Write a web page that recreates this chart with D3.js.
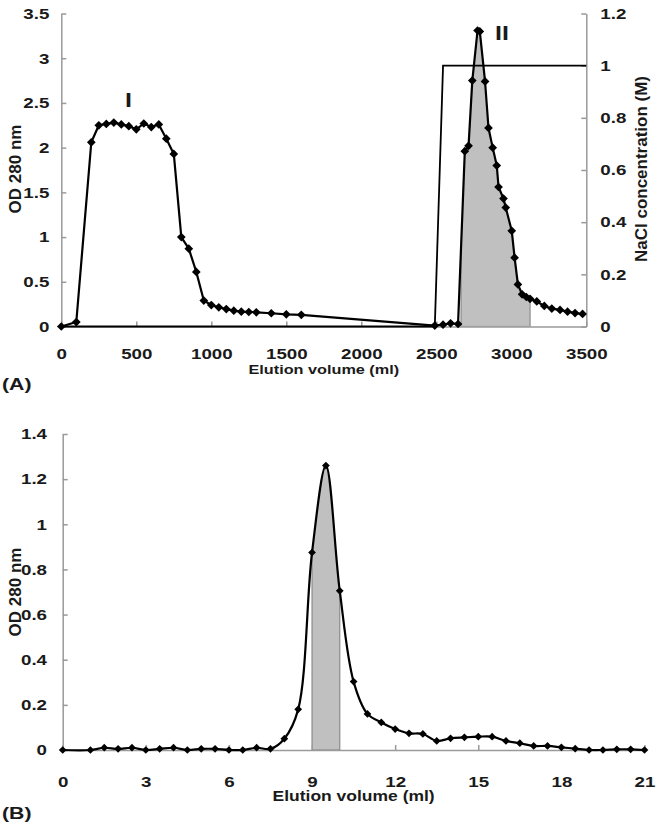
<!DOCTYPE html>
<html><head><meta charset="utf-8">
<script src="https://cdn.jsdelivr.net/npm/d3@7/dist/d3.min.js"></script>
<style>body{margin:0;background:#fff}svg{display:block}</style>
</head><body><svg id="c" width="664" height="829"></svg>
<script>
// ---------- Panel A data ----------
const volumeA = [0, 100, 200, 250, 300, 350, 400, 450, 500, 550, 600, 650, 700, 750, 800, 850, 900, 950,
  1000, 1050, 1100, 1150, 1200, 1250, 1300, 1400, 1500, 1600, 2490, 2545, 2595, 2645,
  2690, 2715, 2740, 2775, 2790, 2825, 2848, 2876, 2903, 2915, 2948, 2963, 3003, 3022, 3044, 3072,
  3100, 3125, 3170, 3220, 3270, 3325, 3375, 3425, 3475];
const odA = [0, 0.05, 2.06, 2.25, 2.265, 2.28, 2.26, 2.24, 2.205, 2.27, 2.23, 2.26, 2.10, 1.93, 1.00, 0.87, 0.61, 0.29,
  0.24, 0.215, 0.195, 0.177, 0.166, 0.162, 0.159, 0.148, 0.136, 0.13, 0.01, 0.02, 0.035, 0.028,
  1.96, 2.02, 2.75, 3.31, 3.30, 2.74, 2.22, 2.0, 1.80, 1.56, 1.43, 1.33, 1.07, 0.77, 0.47, 0.36,
  0.33, 0.31, 0.28, 0.23, 0.20, 0.185, 0.166, 0.15, 0.14];
const naclVolume = [0, 2490, 2545, 3500];
const naclConc = [0, 0, 1, 1];
const shadeA = [2665, 3125];
const xTicksA = [0, 500, 1000, 1500, 2000, 2500, 3000, 3500];
const yTicksA = [0, 0.5, 1, 1.5, 2, 2.5, 3, 3.5];
const yTicksA2 = [0, 0.2, 0.4, 0.6, 0.8, 1, 1.2];
const peakNames = ["I", "II"];
const peakVol = [447, 2938];
const peakOd = [2.455, 3.2];

// ---------- Panel B data ----------
const volumeB = [0, 1, 1.5, 2, 2.5, 3, 3.5, 4, 4.5, 5, 5.5, 6, 6.5, 7, 7.5, 8, 8.5, 9, 9.5, 10,
  10.5, 11, 11.5, 12, 12.5, 13, 13.5, 14, 14.5, 15, 15.5, 16, 16.5, 17, 17.5, 18, 18.5, 19, 19.5, 20, 20.5, 21];
const odB = [0, 0, 0.01, 0.005, 0.01, 0, 0.005, 0.01, 0, 0.005, 0.005, 0, 0, 0.01, 0.005, 0.05, 0.18, 0.875, 1.26, 0.705,
  0.303, 0.16, 0.122, 0.093, 0.074, 0.071, 0.04, 0.052, 0.056, 0.059, 0.059, 0.04, 0.03, 0.018, 0.018, 0.012, 0.006, 0, 0, 0.003, 0.003, 0];
const shadeB = [9, 10];
const xTicksB = [0, 3, 6, 9, 12, 15, 18, 21];
const yTicksB = [0, 0.2, 0.4, 0.6, 0.8, 1, 1.2, 1.4];

// ---------- drawing ----------
const FONT = "'Liberation Sans', Arial, sans-serif";
const SX = 1.25;          // horizontal stretch of the original figure's text
const AXIS = "#9a9a9a";
const INK = "#1a1a1a";
const svg = d3.select("#c");

function styleAxis(g) {
  g.attr("font-family", FONT).attr("font-size", 15).attr("font-weight", "bold");
  g.selectAll(".domain").attr("stroke", AXIS).attr("stroke-width", 1.5);
  g.selectAll(".tick line").attr("stroke", AXIS).attr("stroke-width", 1.5);
  g.selectAll(".tick text").attr("fill", INK).each(function () {
    const t = d3.select(this);
    const x = +t.attr("x") || 0;
    t.attr("x", x / SX).attr("transform", `scale(${SX},1)`);
  });
}
function hText(x, y, s, size, anchor, weight) {
  return svg.append("text").attr("transform", `translate(${x},${y}) scale(${SX},1)`)
    .attr("font-family", FONT).attr("font-size", size).attr("font-weight", weight || "bold")
    .attr("text-anchor", anchor || "start").attr("fill", INK).text(s);
}
function vText(x, y, s, size, weight) {
  return svg.append("text").attr("transform", `translate(${x},${y}) rotate(-90)`)
    .attr("font-family", FONT).attr("font-size", size).attr("font-weight", weight || "bold")
    .attr("text-anchor", "middle").attr("fill", INK).text(s);
}
const diamond = (size) => d3.symbol(d3.symbolSquare, size)();

// ===== Panel A =====
const xA = d3.scaleLinear([0, 3500], [61.3, 586.3]);
const yA = d3.scaleLinear([0, 3.5], [326.5, 13.5]);
const yA2 = d3.scaleLinear([0, 1.2], [326.5, 13.5]);
const ptsA = volumeA.map((v, i) => [v, odA[i]]);

styleAxis(svg.append("g").attr("transform", `translate(0,${yA(0)})`)
  .call(d3.axisBottom(xA).tickValues(xTicksA).tickSizeInner(-5).tickSizeOuter(0).tickPadding(22).tickFormat(d3.format("~g"))));
styleAxis(svg.append("g").attr("transform", `translate(${xA(0)},0)`)
  .call(d3.axisLeft(yA).tickValues(yTicksA).tickSizeInner(-5).tickSizeOuter(0).tickPadding(12).tickFormat(d3.format("~g"))));
styleAxis(svg.append("g").attr("transform", `translate(${xA(3500)},0)`)
  .call(d3.axisRight(yA2).tickValues(yTicksA2).tickSizeInner(-5).tickSizeOuter(0).tickPadding(14).tickFormat(d3.format("~g"))));

const defs = svg.append("defs");
const areaA = d3.area().x(d => xA(d[0])).y0(yA(0)).y1(d => yA(d[1]));
defs.append("clipPath").attr("id", "clipA").append("path").attr("d", areaA(ptsA));
svg.append("rect").attr("clip-path", "url(#clipA)")
  .attr("x", xA(shadeA[0])).attr("width", xA(shadeA[1]) - xA(shadeA[0]))
  .attr("y", yA(3.5)).attr("height", yA(0) - yA(3.5))
  .attr("fill", "#c0c0c0").attr("stroke", "#8a8a8a").attr("stroke-width", 1.2);

svg.append("path").attr("fill", "none").attr("stroke", "#000").attr("stroke-width", 1.8)
  .attr("d", d3.line().x((d, i) => xA(d)).y((d, i) => yA2(naclConc[i]))(naclVolume));
svg.append("path").attr("fill", "none").attr("stroke", "#000").attr("stroke-width", 2.2)
  .attr("stroke-linejoin", "round").attr("d", d3.line().x(d => xA(d[0])).y(d => yA(d[1]))(ptsA));
svg.append("g").selectAll("path").data(ptsA).join("path")
  .attr("d", diamond(38)).attr("fill", "#000")
  .attr("transform", d => `translate(${xA(d[0])},${yA(d[1])}) rotate(45)`);

peakNames.forEach((n, i) => hText(xA(peakVol[i]), yA(peakOd[i]), n, 20, "middle", "bold"));
hText(xA(1750), 374, "Elution volume (ml)", 13, "middle");
hText(2, 390, "(A)", 17, "start");
vText(21, 169, "OD 280 nm", 17);
vText(647, 169, "NaCl concentration (M)", 17);

// ===== Panel B =====
const xB = d3.scaleLinear([0, 21], [62.7, 644.5]);
const yB = d3.scaleLinear([0, 1.4], [750, 434]);
const ptsB = volumeB.map((v, i) => [v, odB[i]]);
const curveB = d3.curveCatmullRom.alpha(0.5);

styleAxis(svg.append("g").attr("transform", `translate(0,${yB(0)})`)
  .call(d3.axisBottom(xB).tickValues(xTicksB).tickSizeInner(-5).tickSizeOuter(0).tickPadding(26).tickFormat(d3.format("~g"))));
styleAxis(svg.append("g").attr("transform", `translate(${xB(0)},0)`)
  .call(d3.axisLeft(yB).tickValues(yTicksB).tickSizeInner(-5).tickSizeOuter(0).tickPadding(15.7).tickFormat(d3.format("~g"))));

const areaB = d3.area().curve(curveB).x(d => xB(d[0])).y0(yB(0)).y1(d => yB(d[1]));
defs.append("clipPath").attr("id", "clipB").append("path").attr("d", areaB(ptsB));
svg.append("rect").attr("clip-path", "url(#clipB)")
  .attr("x", xB(shadeB[0])).attr("width", xB(shadeB[1]) - xB(shadeB[0]))
  .attr("y", yB(1.4)).attr("height", yB(0) - yB(1.4))
  .attr("fill", "#c0c0c0").attr("stroke", "#8a8a8a").attr("stroke-width", 1.2);
svg.append("path").attr("fill", "none").attr("stroke", "#000").attr("stroke-width", 2.2)
  .attr("d", d3.line().curve(curveB).x(d => xB(d[0])).y(d => yB(d[1]))(ptsB));
svg.append("g").selectAll("path").data(ptsB).join("path")
  .attr("d", diamond(30)).attr("fill", "#000")
  .attr("transform", d => `translate(${xB(d[0])},${yB(d[1])}) rotate(45)`);

hText(xB(10.5), 801, "Elution volume (ml)", 14, "middle");
hText(2, 819, "(B)", 17, "start");
vText(21, 592, "OD 280 nm", 17);
</script></body></html>
